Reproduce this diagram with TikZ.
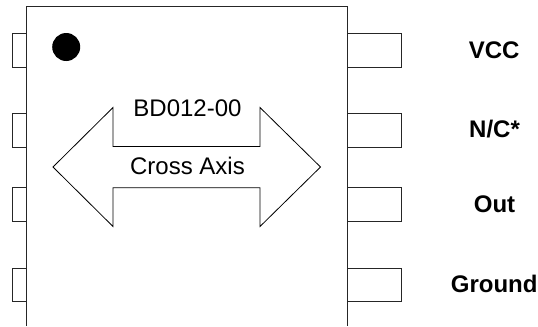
\documentclass[tikz,border=0pt]{standalone}
\usepackage{fontspec}
\setmainfont{Liberation Sans}
\tikzset{
  pinbox/.style={draw=black!85,line width=0.9bp,fill=white,inner sep=0pt,minimum height=33.5bp},
  leftpin/.style={pinbox,minimum width=13.5bp},
  rightpin/.style={pinbox,minimum width=54bp},
  outline/.style={draw=black!85,line width=0.9bp},
  txt/.style={anchor=base,inner sep=0pt,font=\fontsize{24bp}{28bp}\selectfont},
  pinlabel/.style={txt,font=\fontsize{24bp}{28bp}\selectfont\bfseries},
}
\begin{document}
\begin{tikzpicture}[x=1bp,y=-1bp]
\useasboundingbox (0,0) rectangle (538,326);
% pins
\node[leftpin] (L1) at (19.5,50.2) {};
\node[leftpin] (L2) at (19.5,130.3) {};
\node[leftpin] (L3) at (19.5,204.5) {};
\node[leftpin] (L4) at (19.5,284.7) {};
\node[rightpin] (R1) at (374,50.2) {};
\node[rightpin] (R2) at (374,130.3) {};
\node[rightpin] (R3) at (374,204.5) {};
\node[rightpin] (R4) at (374,284.7) {};
% package body, open at the bottom
\draw[outline] (26,326) -- (26,6.5) -- (347,6.5) -- (347,326);
% pin-one dot
\node[circle,fill=black,minimum size=28bp,inner sep=0pt] (dot) at (66.2,47) {};
% double arrow
\draw[draw=black,line width=0.8bp,line join=miter] (53,167) -- (113,107.5) -- (113,146.5) -- (260,146.5) -- (260,107.5) -- (320.5,167)
  -- (260,226.5) -- (260,187.7) -- (113,187.7) -- (113,226.5) -- cycle;
% texts
\node[txt] (t1) at (187.5,116.7) {BD012-00};
\node[txt] (t2) at (187.5,174) {Cross Axis};
\node[pinlabel] (vcc) at (494.2,58) {VCC};
\node[pinlabel] (nc) at (494.5,137.7) {N/C*};
\node[pinlabel] (out) at (494.5,212) {Out};
\node[pinlabel] (gnd) at (494.2,292) {Ground};
\end{tikzpicture}
\end{document}
